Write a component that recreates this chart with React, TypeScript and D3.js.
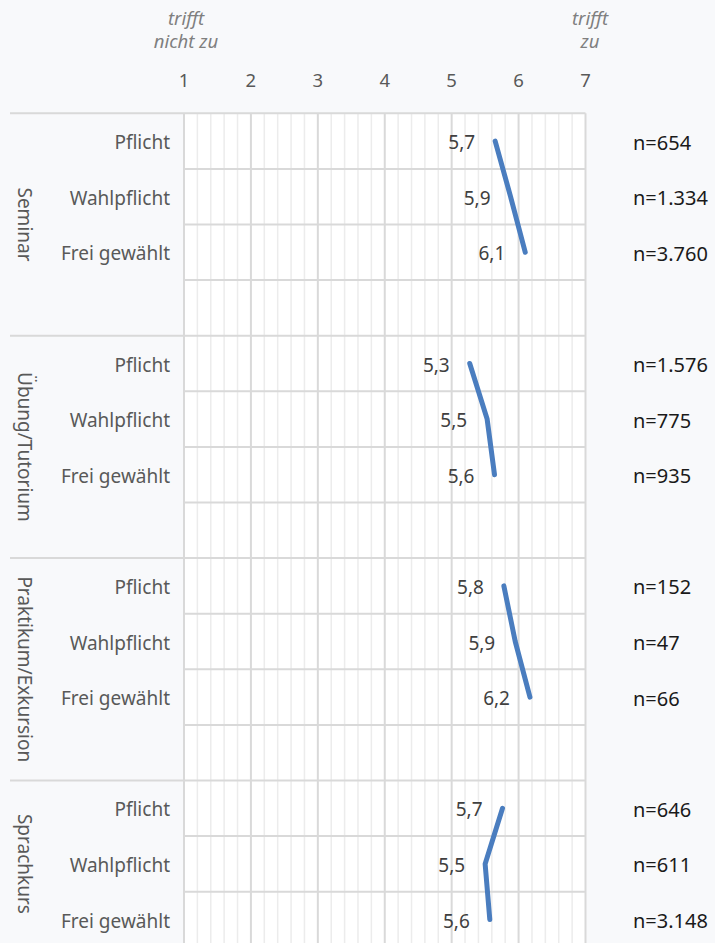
import React from "react";
import * as d3 from "d3";

const groups = ["Seminar", "Übung/Tutorium", "Praktikum/Exkursion", "Sprachkurs"];
const categories = ["Pflicht", "Wahlpflicht", "Frei gewählt"];
const seminarValues = [5.65, 5.88, 6.1];
const uebungValues = [5.27, 5.53, 5.64];
const praktikumValues = [5.78, 5.95, 6.17];
const sprachkursValues = [5.76, 5.5, 5.57];
const seminarLabels = ["5,7", "5,9", "6,1"];
const uebungLabels = ["5,3", "5,5", "5,6"];
const praktikumLabels = ["5,8", "5,9", "6,2"];
const sprachkursLabels = ["5,7", "5,5", "5,6"];
const seminarN = ["n=654", "n=1.334", "n=3.760"];
const uebungN = ["n=1.576", "n=775", "n=935"];
const praktikumN = ["n=152", "n=47", "n=66"];
const sprachkursN = ["n=646", "n=611", "n=3.148"];
const tickValues = [1, 2, 3, 4, 5, 6, 7];
// rows per group: 3 categories + a blank spacer row (none after the last group)
const rowsPerGroup = [4, 4, 4, 3];

const W = 715;
const H = 943;
const FONT = "'Noto Sans', 'Open Sans', sans-serif";

export default function App() {
  const seriesValues = [seminarValues, uebungValues, praktikumValues, sprachkursValues];
  const seriesLabels = [seminarLabels, uebungLabels, praktikumLabels, sprachkursLabels];
  const seriesN = [seminarN, uebungN, praktikumN, sprachkursN];

  const plotLeft = 184;
  const plotRight = 585.5;
  const plotTop = 113.3;
  const rowH = 55.6;
  const groupStart = rowsPerGroup.map((_, g) => d3.sum(rowsPerGroup.slice(0, g)));
  const totalRows = d3.sum(rowsPerGroup);
  const plotBottom = plotTop + totalRows * rowH;

  const x = d3.scaleLinear().domain([1, 7]).range([plotLeft, plotRight]);
  const y = d3
    .scaleBand<number>()
    .domain(d3.range(totalRows))
    .range([plotTop, plotBottom])
    .padding(0);
  const rowCenter = (g: number, i: number) => (y(groupStart[g] + i) as number) + y.bandwidth() / 2;

  const minorTicks = d3.range(1, 7.0001, 0.2).filter((v) => Math.abs(v - Math.round(v)) > 1e-6);
  const rowLines = d3.range(totalRows + 1).map((r) => ({ r, y: plotTop + r * rowH }));
  const groupBoundaries = new Set([...groupStart, totalRows]);

  const line = d3
    .line<[number, number]>()
    .x((d) => d[0])
    .y((d) => d[1]);

  return (
    <svg
      width={W}
      height={H}
      style={{ position: "absolute", left: 0, top: 0, display: "block" }}
      fontFamily={FONT}
    >
      <rect x={0} y={0} width={W} height={H} fill="#f8f9fb" />
      {/* header */}
      <g fill="#7f7f7f" fontStyle="italic" fontSize={18.5} textAnchor="middle">
        <text x={186} y={25}>trifft</text>
        <text x={186} y={48}>nicht zu</text>
        <text x={590} y={25}>trifft</text>
        <text x={590} y={48}>zu</text>
      </g>
      <g fill="#595959" fontSize={18.5} textAnchor="middle">
        {tickValues.map((t) => (
          <text key={t} x={x(t)} y={87}>
            {t}
          </text>
        ))}
      </g>
      {/* plot area */}
      <rect x={plotLeft} y={plotTop} width={plotRight - plotLeft} height={plotBottom - plotTop} fill="#ffffff" />
      {minorTicks.map((v, i) => (
        <line key={"mi" + i} x1={x(v)} x2={x(v)} y1={plotTop} y2={plotBottom} stroke="#ececec" strokeWidth={1.5} />
      ))}
      {rowLines.map(({ r, y: ry }) => (
        <line
          key={"r" + r}
          x1={groupBoundaries.has(r) ? 10 : plotLeft}
          x2={plotRight}
          y1={ry}
          y2={ry}
          stroke="#d9d9d9"
          strokeWidth={2}
        />
      ))}
      {tickValues.map((t) => (
        <line key={"ma" + t} x1={x(t)} x2={x(t)} y1={plotTop} y2={plotBottom} stroke="#d9d9d9" strokeWidth={2} />
      ))}
      {/* groups */}
      {groups.map((gName, g) => {
        const gTop = y(groupStart[g]) as number;
        const gCenter = gTop + (rowsPerGroup[g] * rowH) / 2;
        const pts: [number, number][] = seriesValues[g].map((v, i) => [x(v), rowCenter(g, i)]);
        return (
          <g key={gName}>
            <text
              transform={`translate(25,${gCenter}) rotate(90)`}
              textAnchor="middle"
              dominantBaseline="central"
              fill="#595959"
              fontSize={19}
            >
              {gName}
            </text>
            {categories.map((c, i) => (
              <text
                key={c}
                x={170}
                y={rowCenter(g, i) + 1}
                textAnchor="end"
                dominantBaseline="central"
                fill="#595959"
                fontSize={19}
              >
                {c}
              </text>
            ))}
            <path
              d={line(pts) || ""}
              fill="none"
              stroke="#4a7dbf"
              strokeWidth={5}
              strokeLinecap="round"
              strokeLinejoin="round"
            />
            {seriesValues[g].map((v, i) => (
              <text
                key={"l" + i}
                x={x(v) - 20}
                y={rowCenter(g, i) + 1}
                textAnchor="end"
                dominantBaseline="central"
                fill="#404040"
                fontSize={19}
              >
                {seriesLabels[g][i]}
              </text>
            ))}
            {seriesN[g].map((n, i) => (
              <text
                key={"n" + i}
                x={633}
                y={rowCenter(g, i) + 1}
                dominantBaseline="central"
                fill="#1a1a1a"
                fontSize={20}
              >
                {n}
              </text>
            ))}
          </g>
        );
      })}
    </svg>
  );
}
